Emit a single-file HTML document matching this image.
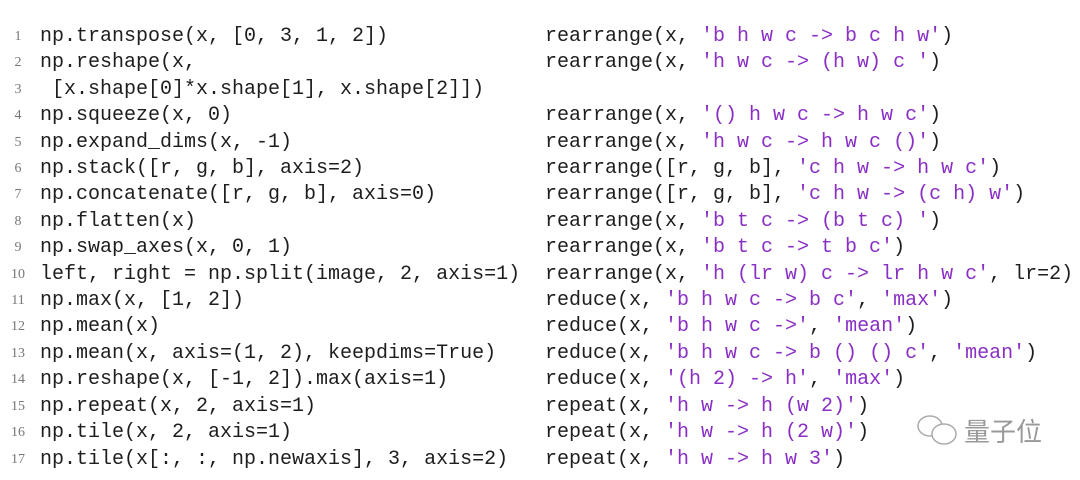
<!DOCTYPE html>
<html><head><meta charset="utf-8"><style>
body{margin:0;width:1080px;height:480px;background:#fff;overflow:hidden;position:relative}
.c{position:absolute;top:24px;font-family:"Liberation Mono",monospace;font-size:20px;line-height:26.4px;color:#1e1e1e;white-space:pre}
.n{position:absolute;top:24px;left:8px;width:20px;text-align:center;font-family:"Liberation Serif",serif;font-size:14px;line-height:26.4px;color:#777;white-space:pre}
.s{color:#8a2fc4}
.wm{position:absolute;left:964px;top:416px;font-family:"Liberation Sans","Noto Sans CJK SC",sans-serif;font-size:26px;line-height:32px;color:#999}
</style></head><body>
<div class="n">1
2
3
4
5
6
7
8
9
10
11
12
13
14
15
16
17</div>
<div class="c" style="left:40px">np.transpose(x, [0, 3, 1, 2])
np.reshape(x,
 [x.shape[0]*x.shape[1], x.shape[2]])
np.squeeze(x, 0)
np.expand_dims(x, -1)
np.stack([r, g, b], axis=2)
np.concatenate([r, g, b], axis=0)
np.flatten(x)
np.swap_axes(x, 0, 1)
left, right = np.split(image, 2, axis=1)
np.max(x, [1, 2])
np.mean(x)
np.mean(x, axis=(1, 2), keepdims=True)
np.reshape(x, [-1, 2]).max(axis=1)
np.repeat(x, 2, axis=1)
np.tile(x, 2, axis=1)
np.tile(x[:, :, np.newaxis], 3, axis=2)</div>
<div class="c" style="left:545px">rearrange(x, <span class="s">'b h w c -&gt; b c h w'</span>)
rearrange(x, <span class="s">'h w c -&gt; (h w) c '</span>)

rearrange(x, <span class="s">'() h w c -&gt; h w c'</span>)
rearrange(x, <span class="s">'h w c -&gt; h w c ()'</span>)
rearrange([r, g, b], <span class="s">'c h w -&gt; h w c'</span>)
rearrange([r, g, b], <span class="s">'c h w -&gt; (c h) w'</span>)
rearrange(x, <span class="s">'b t c -&gt; (b t c) '</span>)
rearrange(x, <span class="s">'b t c -&gt; t b c'</span>)
rearrange(x, <span class="s">'h (lr w) c -&gt; lr h w c'</span>, lr=2)
reduce(x, <span class="s">'b h w c -&gt; b c'</span>, <span class="s">'max'</span>)
reduce(x, <span class="s">'b h w c -&gt;'</span>, <span class="s">'mean'</span>)
reduce(x, <span class="s">'b h w c -&gt; b () () c'</span>, <span class="s">'mean'</span>)
reduce(x, <span class="s">'(h 2) -&gt; h'</span>, <span class="s">'max'</span>)
repeat(x, <span class="s">'h w -&gt; h (w 2)'</span>)
repeat(x, <span class="s">'h w -&gt; h (2 w)'</span>)
repeat(x, <span class="s">'h w -&gt; h w 3'</span>)</div>
<svg style="position:absolute;left:914px;top:414px" width="46" height="36" viewBox="0 0 46 36" fill="none" stroke="#aaa" stroke-width="1.5">
<ellipse cx="16" cy="12" rx="12" ry="10" fill="#fff"/><ellipse cx="30" cy="20" rx="12" ry="10" fill="#fff"/>
</svg>
<div class="wm">量子位</div>
</body></html>
